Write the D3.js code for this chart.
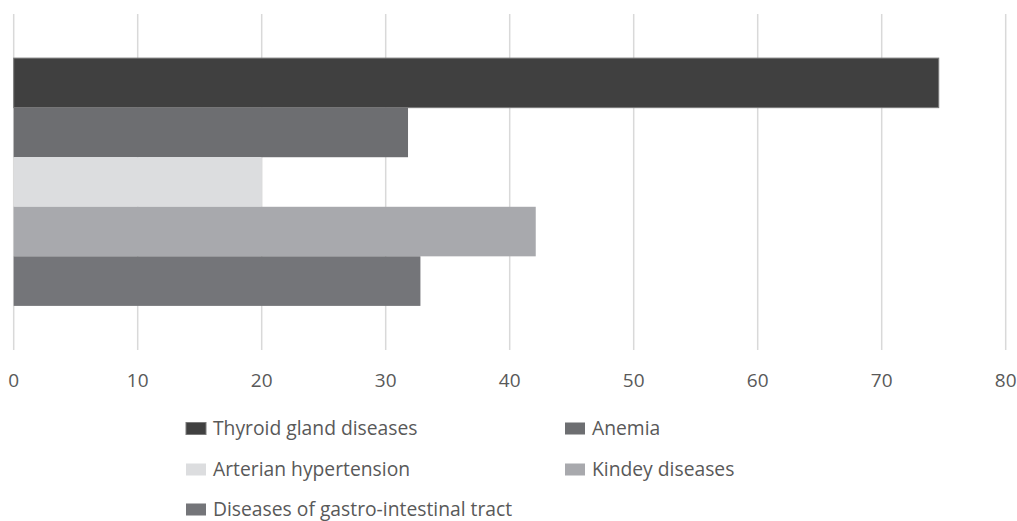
<!DOCTYPE html>
<meta charset="utf-8">
<style>
body { margin: 0; background: #fff; }
text { font-family: "Open Sans", "Liberation Sans", sans-serif; fill: #595959; }
.grid line { stroke: #d9d9d9; stroke-width: 1.5px; }
</style>
<svg width="1017" height="521"></svg>
<script src="https://d3js.org/d3.v7.min.js"></script>
<script>

// data
var series = ["Thyroid gland diseases", "Anemia", "Arterian hypertension", "Kindey diseases", "Diseases of gastro-intestinal tract"];
var values = [74.6, 31.8, 20, 42.1, 32.8];
var colours = ["#404040", "#6d6e71", "#dcdddf", "#a8a9ad", "#747579"];
var ticks = [0, 10, 20, 30, 40, 50, 60, 70, 80];

var svg = d3.select("svg");

var x = d3.scaleLinear().domain([0, 80]).range([13.7, 1005.7]);
var y = d3.scaleBand().domain(series).range([14, 350]).paddingInner(0).paddingOuter(0.89);

// vertical gridlines
svg.append("g").attr("class", "grid")
   .selectAll("line").data(ticks).join("line")
   .attr("x1", d => x(d)).attr("x2", d => x(d))
   .attr("y1", 14).attr("y2", 350);

// bars
svg.append("g").selectAll("rect").data(series).join("rect")
   .attr("x", x(0))
   .attr("y", d => y(d))
   .attr("width", (d, i) => x(values[i]) - x(0))
   .attr("height", y.bandwidth())
   .style("fill", (d, i) => colours[i])
   .style("stroke", (d, i) => i == 0 ? "#7a7a7a" : "none")
   .style("stroke-width", 1);

// tick labels
svg.append("g").selectAll("text").data(ticks).join("text")
   .attr("x", d => x(d))
   .attr("y", 387)
   .attr("text-anchor", "middle")
   .style("font-size", "19px")
   .text(d => d);

// legend, two columns
var legX = [186, 565];
var legY = [428.5, 469.5, 509.5];
var leg = svg.append("g").selectAll("g").data(series).join("g")
   .attr("transform", (d, i) => "translate(" + legX[i % 2] + "," + legY[Math.floor(i / 2)] + ")");

leg.append("rect")
   .attr("x", 0).attr("y", -6)
   .attr("width", 20).attr("height", 12)
   .style("fill", (d, i) => colours[i])
   .style("stroke", (d, i) => i == 0 ? "#7a7a7a" : "none");

leg.append("text")
   .attr("x", 27)
   .attr("y", 6.5)
   .style("font-size", "19.3px")
   .text(d => d);

</script>
